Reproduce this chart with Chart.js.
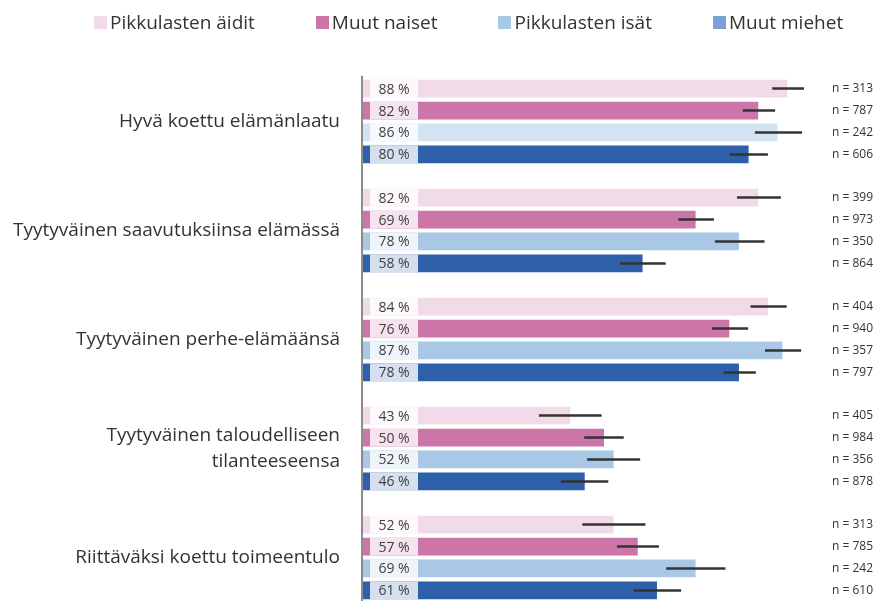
<!DOCTYPE html>
<html>
<head>
<meta charset="utf-8">
<script src="https://cdn.jsdelivr.net/npm/chart.js@4.4.1/dist/chart.umd.min.js"></script>
<style>
  body { margin: 0; background: #fff; }
  #wrap { position: relative; width: 876px; height: 601px; overflow: hidden; }
  #legend { position: absolute; top: 9px; left: 94px; width: 800px; display: flex; white-space: nowrap; font: 19px "Open Sans", sans-serif; color: #333; }
  #legend .item { display: flex; align-items: center; flex-shrink: 0; margin-right: 61px; }
  #legend .box { width: 13px; height: 13px; margin-right: 3px; flex-shrink: 0; }
  canvas { position: absolute; top: 0; left: 0; }
</style>
</head>
<body>
<div id="wrap">
  <canvas id="chart" width="876" height="620"></canvas>
  <div id="legend"></div>
</div>
<script>
const categories = [
  'Hyvä koettu elämänlaatu',
  'Tyytyväinen saavutuksiinsa elämässä',
  'Tyytyväinen perhe-elämäänsä',
  ['Tyytyväinen taloudelliseen', 'tilanteeseensa'],
  'Riittäväksi koettu toimeentulo'
];
const seriesNames = ['Pikkulasten äidit', 'Muut naiset', 'Pikkulasten isät', 'Muut miehet'];

const aiditValues = [88, 82, 84, 43, 52];
const naisetValues = [82, 69, 76, 50, 57];
const isatValues = [86, 78, 87, 52, 69];
const miehetValues = [80, 58, 78, 46, 61];

// confidence interval ends
const aiditLow = [84.9, 77.6, 80.4, 36.5, 45.5];
const aiditHigh = [91.5, 86.7, 87.9, 49.5, 58.6];
const naisetLow = [78.8, 65.4, 72.4, 45.9, 52.7];
const naisetHigh = [85.5, 72.8, 79.9, 54.1, 61.4];
const isatLow = [81.3, 73.0, 83.4, 46.5, 62.9];
const isatHigh = [91.1, 83.3, 90.9, 57.5, 75.2];
const miehetLow = [76.1, 53.3, 74.8, 41.1, 56.2];
const miehetHigh = [84.0, 62.8, 81.5, 50.9, 66.0];

const aiditN = [313, 399, 404, 405, 313];
const naisetN = [787, 973, 940, 984, 785];
const isatN = [242, 350, 357, 356, 242];
const miehetN = [606, 864, 797, 878, 610];

const lows = [aiditLow, naisetLow, isatLow, miehetLow];
const highs = [aiditHigh, naisetHigh, isatHigh, miehetHigh];
const counts = [aiditN, naisetN, isatN, miehetN];

const legendColors = ['#f2dbe8', '#cc75a8', '#a9c8e6', '#7aa0d8'];

const overlay = {
  id: 'overlay',
  afterDatasetsDraw(chart) {
    const { ctx, chartArea, scales: { x } } = chart;
    ctx.save();
    // axis line
    const first = chart.getDatasetMeta(0).data[0];
    ctx.strokeStyle = '#8c8c8c';
    ctx.lineWidth = 2;
    ctx.beginPath();
    ctx.moveTo(chartArea.left - 1, first.y - first.height / 2 - 4);
    ctx.lineTo(chartArea.left - 1, chart.height);
    ctx.stroke();

    chart.data.datasets.forEach((ds, di) => {
      chart.getDatasetMeta(di).data.forEach((bar, i) => {
        const h = bar.height;
        const top = bar.y - h / 2;
        ctx.fillStyle = 'rgba(255,255,255,0.8)';
        ctx.fillRect(chartArea.left + 7, top, 48, h);
        ctx.fillStyle = '#404040';
        ctx.font = '14px "Open Sans", sans-serif';
        ctx.textAlign = 'center';
        ctx.textBaseline = 'middle';
        ctx.fillText(ds.data[i] + ' %', chartArea.left + 31, bar.y + 1);

        ctx.strokeStyle = '#333';
        ctx.lineWidth = 2.5;
        ctx.beginPath();
        ctx.moveTo(x.getPixelForValue(lows[di][i]), bar.y);
        ctx.lineTo(x.getPixelForValue(highs[di][i]), bar.y);
        ctx.stroke();

        ctx.fillStyle = '#333';
        ctx.font = '12px "Open Sans", sans-serif';
        ctx.textAlign = 'right';
        ctx.fillText('n = ' + counts[di][i], chartArea.right + 28, bar.y);
      });
    });
    ctx.restore();
  }
};

const chart = new Chart(document.getElementById('chart'), {
  type: 'bar',
  data: {
    labels: categories,
    datasets: [
      { label: seriesNames[0], data: aiditValues, backgroundColor: '#f2dbe8' },
      { label: seriesNames[1], data: naisetValues, backgroundColor: '#cc75a8' },
      { label: seriesNames[2], data: isatValues, backgroundColor: ['#d3e3f2', '#a9c8e6', '#a9c8e6', '#a9c8e6', '#a9c8e6'] },
      { label: seriesNames[3], data: miehetValues, backgroundColor: '#2e60aa' }
    ]
  },
  options: {
    indexAxis: 'y',
    responsive: false,
    animation: false,
    barPercentage: 0.81,
    categoryPercentage: 0.805,
    layout: { padding: { top: 67, right: 31, bottom: 8, left: 0 } },
    plugins: {
      legend: { display: false },
      tooltip: { enabled: false }
    },
    scales: {
      x: { display: false, min: 0, max: 100 },
      y: {
        grid: { display: false, drawTicks: false },
        border: { display: false },
        ticks: { padding: 23, color: '#333', font: { family: 'Open Sans', size: 19, lineHeight: 1.38 } },
        afterFit(scale) {
          scale.width = 363;
          scale.paddingTop = 0;
          scale.paddingBottom = 0;
        }
      }
    }
  },
  plugins: [overlay]
});

// legend
const legend = document.getElementById('legend');
seriesNames.forEach((name, i) => {
  const item = document.createElement('div');
  item.className = 'item';
  const box = document.createElement('span');
  box.className = 'box';
  box.style.background = legendColors[i];
  const txt = document.createElement('span');
  txt.textContent = name;
  item.appendChild(box);
  item.appendChild(txt);
  legend.appendChild(item);
});
</script>
</body>
</html>
